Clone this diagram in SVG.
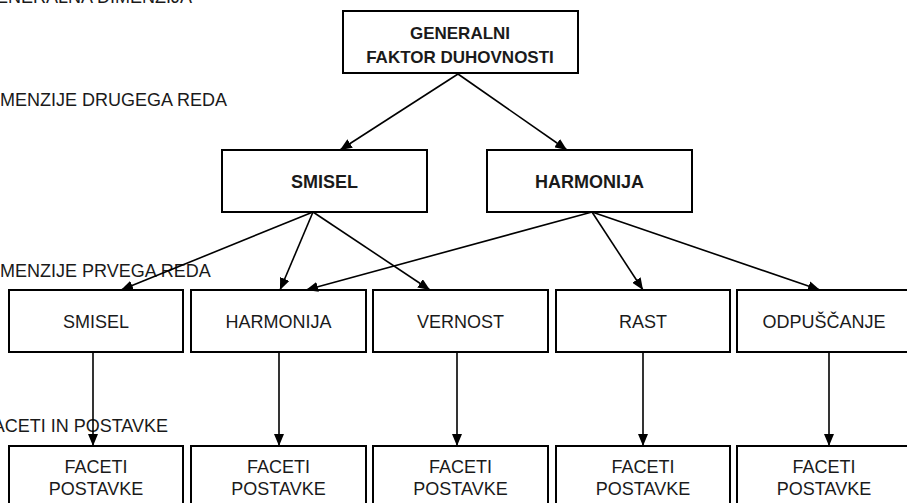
<svg xmlns="http://www.w3.org/2000/svg" width="907" height="503" viewBox="0 0 907 503">
<defs>
<marker id="ah" viewBox="0 0 12 10" refX="12" refY="5" markerWidth="12" markerHeight="10" markerUnits="userSpaceOnUse" orient="auto">
<path d="M0,0 L12,5 L0,10 Z" fill="#000"/>
</marker>
<style>
.box{fill:#fff;stroke:#000;stroke-width:2}
.t{font-family:"Liberation Sans",Arial,sans-serif;font-size:18px;fill:#1a1a1a;text-anchor:middle}
.b{font-weight:bold}
.lab{font-family:"Liberation Sans",Arial,sans-serif;font-size:18px;fill:#1a1a1a}
.e{stroke:#000;stroke-width:1.6;fill:none;marker-end:url(#ah)}
</style>
</defs>
<rect width="907" height="503" fill="#fff"/>
<g id="labels">
<text class="lab" x="192" y="3" text-anchor="end">ENERALNA DIMENZIJA</text>
<text class="lab" x="0" y="106">MENZIJE DRUGEGA REDA</text>
<text class="lab" x="0" y="277">MENZIJE PRVEGA REDA</text>
<text class="lab" x="168" y="432" text-anchor="end">ACETI IN POSTAVKE</text>
</g>
<g id="n-top">
<rect class="box" x="343" y="11" width="235" height="62"/>
<text class="t b" x="460" y="39" style="font-size:17px">GENERALNI</text>
<text class="t b" x="460" y="63" style="font-size:17px">FAKTOR DUHOVNOSTI</text>
</g>
<g id="n-smisel2">
<rect class="box" x="222" y="150" width="205" height="62"/>
<text class="t b" x="324.5" y="188">SMISEL</text>
</g>
<g id="n-harmonija2">
<rect class="box" x="487" y="150" width="205" height="62"/>
<text class="t b" x="589.5" y="188">HARMONIJA</text>
</g>
<g id="n-smisel1">
<rect class="box" x="9" y="290" width="174" height="62"/>
<text class="t" x="96" y="328">SMISEL</text>
</g>
<g id="n-harmonija1">
<rect class="box" x="191" y="290" width="175" height="62"/>
<text class="t" x="278.5" y="328">HARMONIJA</text>
</g>
<g id="n-vernost">
<rect class="box" x="373" y="290" width="175" height="62"/>
<text class="t" x="460.5" y="328">VERNOST</text>
</g>
<g id="n-rast">
<rect class="box" x="556" y="290" width="174" height="62"/>
<text class="t" x="643" y="328">RAST</text>
</g>
<g id="n-odpuscanje">
<rect class="box" x="737" y="290" width="180" height="62"/>
<text class="t" x="824" y="328">ODPUŠČANJE</text>
</g>
<g id="n-f1">
<rect class="box" x="9" y="446" width="174" height="70"/>
<text class="t" x="96" y="473">FACETI</text>
<text class="t" x="96" y="495">POSTAVKE</text>
</g>
<g id="n-f2">
<rect class="box" x="191" y="446" width="175" height="70"/>
<text class="t" x="278.5" y="473">FACETI</text>
<text class="t" x="278.5" y="495">POSTAVKE</text>
</g>
<g id="n-f3">
<rect class="box" x="373" y="446" width="175" height="70"/>
<text class="t" x="460.5" y="473">FACETI</text>
<text class="t" x="460.5" y="495">POSTAVKE</text>
</g>
<g id="n-f4">
<rect class="box" x="556" y="446" width="174" height="70"/>
<text class="t" x="643" y="473">FACETI</text>
<text class="t" x="643" y="495">POSTAVKE</text>
</g>
<g id="n-f5">
<rect class="box" x="737" y="446" width="180" height="70"/>
<text class="t" x="824" y="473">FACETI</text>
<text class="t" x="824" y="495">POSTAVKE</text>
</g>
<g id="connectors">
<line class="e" x1="458" y1="74" x2="340" y2="150"/>
<line class="e" x1="458" y1="74" x2="567" y2="150"/>
<line class="e" x1="313" y1="212" x2="121" y2="290"/>
<line class="e" x1="313" y1="212" x2="280" y2="290"/>
<line class="e" x1="313" y1="212" x2="430" y2="290"/>
<line class="e" x1="592" y1="212" x2="306" y2="290"/>
<line class="e" x1="592" y1="212" x2="643" y2="290"/>
<line class="e" x1="592" y1="212" x2="820" y2="290"/>
<line class="e" x1="93" y1="352" x2="93" y2="446"/>
<line class="e" x1="279" y1="352" x2="279" y2="446"/>
<line class="e" x1="457" y1="352" x2="457" y2="446"/>
<line class="e" x1="643" y1="352" x2="643" y2="446"/>
<line class="e" x1="829" y1="352" x2="829" y2="446"/>
</g>
</svg>
